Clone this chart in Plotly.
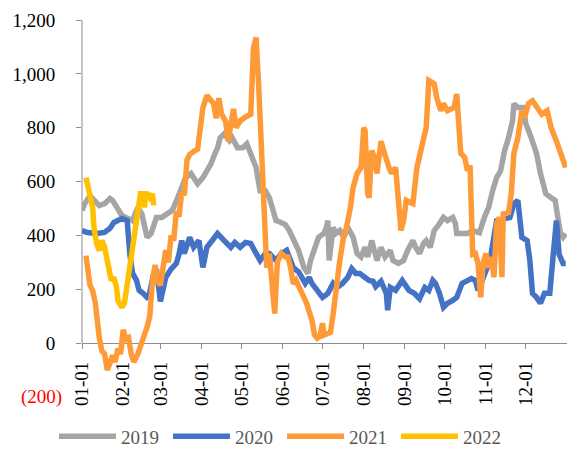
import plotly.graph_objects as go

# ---- data ----
month_ticks = ["01-01", "02-01", "03-01", "04-01", "05-01", "06-01",
               "07-01", "08-01", "09-01", "10-01", "11-01", "12-01"]
y_ticks = [0, 200, 400, 600, 800, 1000, 1200]
y_tick_labels = ["0", "200", "400", "600", "800", "1,000", "1,200"]
neg_label = "(200)"

d2019 = ["01-01", "01-03", "01-07", "01-11", "01-14", "01-18", "01-22", "01-24", "01-28", "01-31",
         "02-03", "02-08", "02-12", "02-15", "02-19", "02-22", "02-26", "03-02", "03-06", "03-10",
         "03-14", "03-16", "03-20", "03-24", "03-29", "04-02", "04-05", "04-08", "04-11", "04-13",
         "04-15", "04-18", "04-22", "04-24", "04-28", "05-02", "05-05", "05-08", "05-12", "05-15",
         "05-19", "05-22", "05-25", "05-27", "05-30", "06-03", "06-06", "06-10", "06-13", "06-17",
         "06-20", "06-22", "06-25", "06-28", "07-02", "07-04", "07-05", "07-06", "07-09", "07-11",
         "07-14", "07-17", "07-20", "07-22", "07-24", "07-27", "07-30", "08-02", "08-04", "08-07",
         "08-11", "08-14", "08-17", "08-21", "08-23", "08-27", "08-31", "09-03", "09-07", "09-09",
         "09-12", "09-15", "09-17", "09-20", "09-23", "09-27", "09-30", "10-03", "10-07", "10-09",
         "10-10", "10-14", "10-18", "10-22", "10-27", "10-31", "11-03", "11-06", "11-09", "11-12",
         "11-15", "11-18", "11-21", "11-22", "11-25", "11-29", "12-01", "12-05", "12-09", "12-12",
         "12-16", "12-20", "12-23", "12-27", "12-29", "12-31"]
v2019 = [493, 518, 548, 530, 511, 518, 537, 530, 493, 474,
         467, 455, 504, 480, 393, 407, 467, 467, 480, 493,
         540, 566, 615, 630, 592, 615, 640, 666, 703, 725,
         763, 777, 752, 763, 726, 726, 740, 703, 652, 566,
         566, 540, 481, 455, 450, 440, 418, 381, 344, 281,
         259, 307, 344, 393, 407, 430, 455, 307, 430, 407,
         418, 393, 430, 407, 393, 333, 320, 356, 320, 381,
         307, 356, 320, 344, 307, 296, 307, 344, 381, 356,
         333, 370, 381, 356, 418, 444, 467, 455, 467, 444,
         407, 407, 407, 418, 410, 470, 504, 566, 615, 640,
         715, 763, 826, 889, 875, 875, 815, 763, 705, 630,
         555, 540, 530, 407, 393, 407]

d2020 = ["01-01", "01-05", "01-12", "01-18", "01-22", "01-25", "01-31", "02-04", "02-06", "02-08",
         "02-11", "02-13", "02-16", "02-20", "02-24", "02-26", "03-01", "03-05", "03-09", "03-13",
         "03-15", "03-17", "03-19", "03-23", "03-26", "03-30", "04-02", "04-05", "04-09", "04-13",
         "04-18", "04-23", "04-26", "04-30", "05-04", "05-08", "05-12", "05-15", "05-19", "05-22",
         "05-27", "05-31", "06-04", "06-06", "06-09", "06-13", "06-18", "06-21", "06-23", "06-27",
         "07-01", "07-05", "07-09", "07-12", "07-16", "07-20", "07-23", "07-26", "07-29", "08-02",
         "08-05", "08-08", "08-10", "08-14", "08-18", "08-19", "08-21", "08-25", "08-28", "08-30",
         "09-04", "09-08", "09-12", "09-14", "09-16", "09-19", "09-22", "09-24", "09-27", "09-30",
         "10-03", "10-07", "10-10", "10-14", "10-18", "10-21", "10-24", "10-26", "10-30", "11-04",
         "11-09", "11-14", "11-19", "11-22", "11-25", "11-28", "12-02", "12-04", "12-06", "12-09",
         "12-12", "12-15", "12-19", "12-22", "12-24", "12-26", "12-29", "12-31"]
v2020 = [418, 411, 407, 411, 426, 448, 463, 455, 330, 260,
         233, 196, 185, 165, 260, 275, 155, 244, 275, 296,
         330, 381, 333, 393, 356, 381, 281, 356, 381, 407,
         381, 356, 374, 356, 374, 370, 333, 307, 333, 333,
         307, 333, 345, 320, 280, 265, 222, 244, 222, 196,
         170, 185, 222, 207, 222, 244, 277, 259, 259, 244,
         233, 230, 210, 230, 185, 122, 207, 196, 222, 233,
         196, 185, 165, 185, 207, 196, 233, 222, 185, 133,
         148, 159, 170, 222, 233, 240, 233, 196, 244, 307,
         455, 463, 467, 518, 530, 393, 381, 307, 185, 170,
         148, 185, 185, 350, 455, 330, 296, 296]

d2021 = ["01-04", "01-07", "01-09", "01-11", "01-14", "01-16", "01-18", "01-20", "01-22", "01-24",
         "01-26", "01-28", "01-30", "02-01", "02-03", "02-05", "02-07", "02-09", "02-12", "02-15",
         "02-17", "02-19", "02-21", "02-23", "02-25", "02-27", "03-01", "03-03", "03-05", "03-07",
         "03-09", "03-11", "03-13", "03-15", "03-17", "03-19", "03-21", "03-23", "03-25", "03-27",
         "03-29", "03-31", "04-02", "04-05", "04-08", "04-10", "04-12", "04-14", "04-16", "04-19",
         "04-21", "04-23", "04-25", "04-27", "04-30", "05-04", "05-08", "05-10", "05-12", "05-14",
         "05-16", "05-18", "05-20", "05-22", "05-24", "05-26", "05-28", "05-31", "06-03", "06-05",
         "06-07", "06-09", "06-11", "06-14", "06-17", "06-19", "06-21", "06-23", "06-25", "06-27",
         "06-29", "07-01", "07-02", "07-05", "07-07", "07-09", "07-11", "07-14", "07-17", "07-19",
         "07-22", "07-24", "07-27", "07-30", "08-01", "08-02", "08-04", "08-05", "08-07", "08-09",
         "08-11", "08-14", "08-16", "08-18", "08-20", "08-22", "08-25", "08-29", "08-31", "09-02",
         "09-07", "09-10", "09-13", "09-17", "09-19", "09-23", "09-25", "09-28", "09-30", "10-03",
         "10-08", "10-10", "10-13", "10-16", "10-18", "10-20", "10-22", "10-24", "10-26", "10-28",
         "10-30", "11-01", "11-03", "11-05", "11-07", "11-09", "11-11", "11-13", "11-14", "11-18",
         "11-20", "11-22", "11-25", "11-28", "11-30", "12-03", "12-06", "12-09", "12-13", "12-17",
         "12-20", "12-24", "12-27", "12-31"]
v2021 = [325, 215, 195, 150, 20, -30, -40, -100, -75, -45,
         -70, -20, -40, 50, 15, 20, -40, -70, -40, 0,
         30, 60, 100, 230, 290, 230, 215, 290, 345, 300,
         400, 380, 490, 470, 560, 550, 680, 700, 710, 715,
         720, 790, 875, 920, 900, 890, 835, 910, 850, 825,
         750, 825, 870, 800, 825, 840, 850, 1095, 1135, 950,
         705, 455, 280, 333, 200, 110, 300, 333, 320, 320,
         280, 220, 233, 196, 170, 148, 122, 85, 30, 18,
         25, 74, 30, 37, 40, 110, 207, 307, 400, 430,
         504, 578, 630, 652, 800, 790, 555, 540, 715, 690,
         630, 750, 715, 680, 652, 630, 652, 418, 455, 530,
         518, 652, 715, 800, 975, 963, 910, 863, 890, 863,
         875, 925, 705, 690, 640, 660, 330, 333, 296, 170,
         300, 333, 280, 320, 245, 444, 467, 245, 480, 485,
         555, 705, 763, 863, 837, 890, 900, 875, 850, 863,
         800, 750, 705, 652]

d2022 = ["01-04", "01-06", "01-09", "01-10", "01-12", "01-14", "01-16", "01-18", "01-20", "01-23",
         "01-25", "01-27", "01-28", "01-31", "02-02", "02-04", "02-07", "02-09", "02-11", "02-14",
         "02-16", "02-17", "02-18", "02-21", "02-23", "02-24"]
v2022 = [615, 578, 504, 430, 370, 344, 381, 356, 296, 233,
         244, 207, 159, 133, 150, 222, 296, 370, 467, 555,
         555, 504, 560, 540, 555, 511]

series = [("2019", d2019, v2019, "#A5A5A5"),
          ("2020", d2020, v2020, "#4472C4"),
          ("2021", d2021, v2021, "#FF9A38"),
          ("2022", d2022, v2022, "#FFC000")]

BASE_YEAR = "2021-"   # common dummy year for the month-day axis


def on_axis(dates):
    return [BASE_YEAR + d for d in dates]


FONT = "Liberation Serif, Times New Roman, serif"
AXIS_GREY = "#8C8C8C"
Y_MIN, Y_MAX = -200, 1200

fig = go.Figure()
for name, dates, vals, color in series:
    fig.add_trace(go.Scatter(x=on_axis(dates), y=vals, mode="lines", name=name,
                             line=dict(color=color, width=5.5)))

fig.update_layout(
    width=568, height=457,
    margin=dict(l=82, r=1, t=20, b=60, autoexpand=False),
    paper_bgcolor="white", plot_bgcolor="white",
    font=dict(family=FONT, size=19, color="black"),
    showlegend=True,
    legend=dict(orientation="h", xref="container", yref="container",
                x=0.095, y=0.045, xanchor="left", yanchor="middle",
                font=dict(family=FONT, size=19, color="#595959"),
                itemwidth=57, entrywidth=42, entrywidthmode="pixels",
                traceorder="normal", bgcolor="rgba(0,0,0,0)"),
    xaxis=dict(
        type="date",
        range=[BASE_YEAR + "01-01", BASE_YEAR + "12-31 23:00"],
        tickvals=on_axis(month_ticks), ticktext=month_ticks,
        tickangle=-90, ticks="outside", ticklen=5, tickcolor=AXIS_GREY,
        showline=True, linecolor=AXIS_GREY, linewidth=1,
        showgrid=False, zeroline=False,
        anchor="free", position=(0 - Y_MIN) / (Y_MAX - Y_MIN),
        layer="below traces", ticklabelstandoff=5,
        tickfont=dict(family=FONT, size=19, color="black"),
    ),
    yaxis=dict(
        range=[Y_MIN, Y_MAX],
        tickvals=y_ticks, ticktext=y_tick_labels,
        ticks="outside", ticklen=5, tickcolor=AXIS_GREY,
        showline=False, showgrid=False, zeroline=False,
        ticklabelstandoff=17, layer="below traces",
        tickfont=dict(family=FONT, size=19, color="black"),
    ),
    shapes=[dict(type="line", xref="paper", yref="y", x0=0, x1=0, y0=0, y1=Y_MAX,
                 line=dict(color=AXIS_GREY, width=1), layer="below")],
    annotations=[dict(text=neg_label, xref="paper", yref="y", x=0, y=Y_MIN,
                      xanchor="right", yanchor="middle", xshift=-18, showarrow=False,
                      font=dict(family=FONT, size=19, color="red"))],
)

fig.write_html("out.html",
               config={"displayModeBar": False},
               post_script="document.body.style.margin='0px';"
                           "document.body.style.overflow='hidden';")
